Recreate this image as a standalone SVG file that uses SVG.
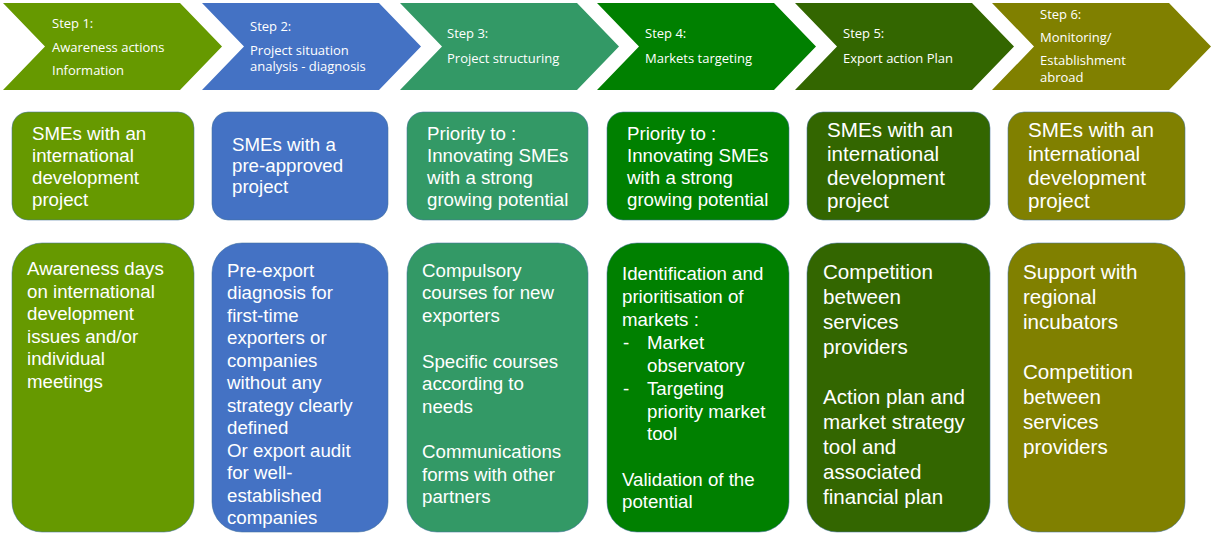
<svg xmlns="http://www.w3.org/2000/svg" width="1212" height="533" viewBox="0 0 1212 533">
  <defs>
    <style>
      .step { font-family: "Open Sans", "Liberation Sans", sans-serif; font-size: 13px; fill: #ffffff; }
      .txt { font-family: "Liberation Sans", Arial, sans-serif; font-size: 18.7px; fill: #ffffff; }
      .big { font-size: 20.6px; }
      .box { stroke: #41719c; stroke-width: 1; stroke-opacity: 0.55; }
      .c1 { fill: #669900; }
      .c2 { fill: #4472c4; }
      .c3 { fill: #339966; }
      .c4 { fill: #008000; }
      .c5 { fill: #336600; }
      .c6 { fill: #808000; }
    </style>
  </defs>
  <rect width="1212" height="533" fill="#ffffff"/>

  <!-- Step 1 -->
  <g id="step1">
    <path class="c1" d="M3,3 H180 L222,46.5 L180,90 H3 L45,46.5 Z"/>
    <text class="step" x="52" y="28">Step 1:</text>
    <text class="step" x="52" y="52">Awareness actions</text>
    <text class="step" x="52" y="75">Information</text>
  </g>
  <g id="target1">
    <rect class="box c1" x="12" y="112" width="182" height="108" rx="16"/>
    <text class="txt" x="32" y="140">SMEs with an</text>
    <text class="txt" x="32" y="162">international</text>
    <text class="txt" x="32" y="184">development</text>
    <text class="txt" x="32" y="206">project</text>
  </g>
  <g id="action1">
    <rect class="box c1" x="12" y="243" width="182" height="289" rx="30"/>
    <text class="txt" x="27" y="275">Awareness days</text>
    <text class="txt" x="27" y="298">on international</text>
    <text class="txt" x="27" y="320">development</text>
    <text class="txt" x="27" y="343">issues and/or</text>
    <text class="txt" x="27" y="365">individual</text>
    <text class="txt" x="27" y="388">meetings</text>
  </g>

  <!-- Step 2 -->
  <g id="step2">
    <path class="c2" d="M202,3 H379 L421,46.5 L379,90 H202 L244,46.5 Z"/>
    <text class="step" x="250" y="31">Step 2:</text>
    <text class="step" x="250" y="55">Project situation</text>
    <text class="step" x="250" y="71">analysis - diagnosis</text>
  </g>
  <g id="target2">
    <rect class="box c2" x="212" y="112" width="176" height="108" rx="16"/>
    <text class="txt" x="232" y="151">SMEs with a</text>
    <text class="txt" x="232" y="172">pre-approved</text>
    <text class="txt" x="232" y="193">project</text>
  </g>
  <g id="action2">
    <rect class="box c2" x="212" y="243" width="176" height="289" rx="30"/>
    <text class="txt" x="227" y="277">Pre-export</text>
    <text class="txt" x="227" y="299">diagnosis for</text>
    <text class="txt" x="227" y="322">first-time</text>
    <text class="txt" x="227" y="344">exporters or</text>
    <text class="txt" x="227" y="367">companies</text>
    <text class="txt" x="227" y="389">without any</text>
    <text class="txt" x="227" y="412">strategy clearly</text>
    <text class="txt" x="227" y="434">defined</text>
    <text class="txt" x="227" y="457">Or export audit</text>
    <text class="txt" x="227" y="479">for well-</text>
    <text class="txt" x="227" y="502">established</text>
    <text class="txt" x="227" y="524">companies</text>
  </g>

  <!-- Step 3 -->
  <g id="step3">
    <path class="c3" d="M400,3 H577 L619,46.5 L577,90 H400 L442,46.5 Z"/>
    <text class="step" x="447" y="38">Step 3:</text>
    <text class="step" x="447" y="63">Project structuring</text>
  </g>
  <g id="target3">
    <rect class="box c3" x="407" y="112" width="181" height="108" rx="16"/>
    <text class="txt" x="427" y="140">Priority to :</text>
    <text class="txt" x="427" y="162">Innovating SMEs</text>
    <text class="txt" x="427" y="184">with a strong</text>
    <text class="txt" x="427" y="206">growing potential</text>
  </g>
  <g id="action3">
    <rect class="box c3" x="407" y="243" width="181" height="289" rx="30"/>
    <text class="txt" x="422" y="277">Compulsory</text>
    <text class="txt" x="422" y="299">courses for new</text>
    <text class="txt" x="422" y="322">exporters</text>
    <text class="txt" x="422" y="368">Specific courses</text>
    <text class="txt" x="422" y="390">according to</text>
    <text class="txt" x="422" y="413">needs</text>
    <text class="txt" x="422" y="458">Communications</text>
    <text class="txt" x="422" y="481">forms with other</text>
    <text class="txt" x="422" y="503">partners</text>
  </g>

  <!-- Step 4 -->
  <g id="step4">
    <path class="c4" d="M597,3 H774 L816,46.5 L774,90 H597 L639,46.5 Z"/>
    <text class="step" x="645" y="38">Step 4:</text>
    <text class="step" x="645" y="63">Markets targeting</text>
  </g>
  <g id="target4">
    <rect class="box c4" x="607" y="112" width="182" height="108" rx="16"/>
    <text class="txt" x="627" y="140">Priority to :</text>
    <text class="txt" x="627" y="162">Innovating SMEs</text>
    <text class="txt" x="627" y="184">with a strong</text>
    <text class="txt" x="627" y="206">growing potential</text>
  </g>
  <g id="action4">
    <rect class="box c4" x="607" y="243" width="182" height="289" rx="30"/>
    <text class="txt" x="622" y="280">Identification and</text>
    <text class="txt" x="622" y="303">prioritisation of</text>
    <text class="txt" x="622" y="326">markets :</text>
    <text class="txt" x="623" y="349">-</text>
    <text class="txt" x="647" y="349">Market</text>
    <text class="txt" x="647" y="372">observatory</text>
    <text class="txt" x="623" y="395">-</text>
    <text class="txt" x="647" y="395">Targeting</text>
    <text class="txt" x="647" y="418">priority market</text>
    <text class="txt" x="647" y="440">tool</text>
    <text class="txt" x="622" y="486">Validation of the</text>
    <text class="txt" x="622" y="508">potential</text>
  </g>

  <!-- Step 5 -->
  <g id="step5">
    <path class="c5" d="M795,3 H972 L1014,46.5 L972,90 H795 L837,46.5 Z"/>
    <text class="step" x="843" y="38">Step 5:</text>
    <text class="step" x="843" y="63">Export action Plan</text>
  </g>
  <g id="target5">
    <rect class="box c5" x="807" y="112" width="183" height="108" rx="16"/>
    <text class="txt big" x="827" y="137">SMEs with an</text>
    <text class="txt big" x="827" y="161">international</text>
    <text class="txt big" x="827" y="185">development</text>
    <text class="txt big" x="827" y="208">project</text>
  </g>
  <g id="action5">
    <rect class="box c5" x="807" y="243" width="183" height="289" rx="30"/>
    <text class="txt big" x="823" y="279">Competition</text>
    <text class="txt big" x="823" y="304">between</text>
    <text class="txt big" x="823" y="329">services</text>
    <text class="txt big" x="823" y="354">providers</text>
    <text class="txt big" x="823" y="404">Action plan and</text>
    <text class="txt big" x="823" y="429">market strategy</text>
    <text class="txt big" x="823" y="454">tool and</text>
    <text class="txt big" x="823" y="479">associated</text>
    <text class="txt big" x="823" y="504">financial plan</text>
  </g>

  <!-- Step 6 -->
  <g id="step6">
    <path class="c6" d="M992,3 H1169 L1211,46.5 L1169,90 H992 L1034,46.5 Z"/>
    <text class="step" x="1040" y="19">Step 6:</text>
    <text class="step" x="1040" y="42">Monitoring/</text>
    <text class="step" x="1040" y="65">Establishment</text>
    <text class="step" x="1040" y="82">abroad</text>
  </g>
  <g id="target6">
    <rect class="box c6" x="1008" y="112" width="177" height="108" rx="16"/>
    <text class="txt big" x="1028" y="137">SMEs with an</text>
    <text class="txt big" x="1028" y="161">international</text>
    <text class="txt big" x="1028" y="185">development</text>
    <text class="txt big" x="1028" y="208">project</text>
  </g>
  <g id="action6">
    <rect class="box c6" x="1008" y="243" width="177" height="289" rx="30"/>
    <text class="txt big" x="1023" y="279">Support with</text>
    <text class="txt big" x="1023" y="304">regional</text>
    <text class="txt big" x="1023" y="329">incubators</text>
    <text class="txt big" x="1023" y="379">Competition</text>
    <text class="txt big" x="1023" y="404">between</text>
    <text class="txt big" x="1023" y="429">services</text>
    <text class="txt big" x="1023" y="454">providers</text>
  </g>
</svg>
